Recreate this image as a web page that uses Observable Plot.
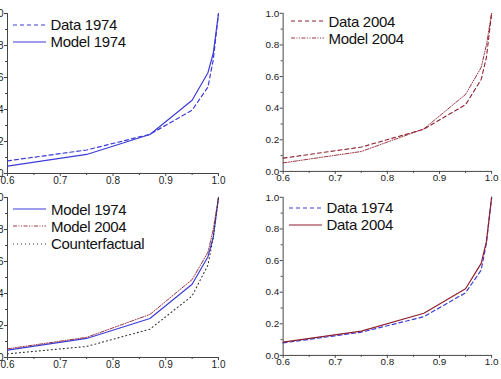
<!DOCTYPE html>
<html><head><meta charset="utf-8">
<script src="https://cdn.jsdelivr.net/npm/d3@7"></script>
<script src="https://cdn.jsdelivr.net/npm/@observablehq/plot@0.6"></script>
<style>
html,body{margin:0;padding:0;background:#fff;overflow:hidden;width:501px;height:379px;position:relative}
.panel{position:absolute}
.leg{position:absolute;font-family:"Liberation Sans",Arial,sans-serif;font-size:15px;color:#111;white-space:nowrap;letter-spacing:-0.3px}
.leg .row{display:flex;align-items:center;height:17.3px}
.leg svg{margin-right:5px;flex:none}
</style></head><body>
<script>
// Top income share curves (x = population fraction)
const xs = [0.6, 0.75, 0.87, 0.95, 0.98, 0.99, 1.0];
const data1974 = [0.079, 0.147, 0.245, 0.396, 0.54, 0.71, 1.0];
const model1974 = [0.046, 0.119, 0.244, 0.458, 0.63, 0.75, 1.0];
const data2004 = [0.084, 0.154, 0.267, 0.422, 0.582, 0.72, 1.0];
const model2004 = [0.054, 0.126, 0.269, 0.487, 0.658, 0.80, 1.0];
const counterfactual = [0.023, 0.069, 0.177, 0.385, 0.578, 0.75, 1.0];

const xTicks = [0.6, 0.7, 0.8, 0.9, 1.0];
const xMinor = [0.65, 0.75, 0.85, 0.95];
const yTicks = [0.0, 0.2, 0.4, 0.6, 0.8, 1.0];
const yMinor = [0.1, 0.3, 0.5, 0.7, 0.9];

const BLUE = "#3c3cd8", RED = "#8e1f2e", BLACK = "#333";
const sty = {
  dashBlue: {stroke: BLUE, strokeDasharray: "4,3", strokeWidth: 1.2},
  solidBlue: {stroke: BLUE, strokeWidth: 1.2},
  dashRed: {stroke: RED, strokeDasharray: "4,3", strokeWidth: 1.1},
  dashDotRed: {stroke: RED, strokeDasharray: "4,1.5,1,1.5,1,1.5", strokeWidth: 0.9},
  solidRed: {stroke: RED, strokeWidth: 1.2},
  dotted: {stroke: BLACK, strokeDasharray: "1,3", strokeWidth: 1.1}
};

const panels = [
  {left: -23, top: 0, legend: {x: 12.5, y: 16},
   series: [["Data 1974", data1974, sty.dashBlue], ["Model 1974", model1974, sty.solidBlue]]},
  {left: 253, top: 0, legend: {x: 290.5, y: 12.5},
   series: [["Data 2004", data2004, sty.dashRed], ["Model 2004", model2004, sty.dashDotRed]]},
  {left: -23, top: 184, legend: {x: 13, y: 200.5},
   series: [["Model 1974", model1974, sty.solidBlue], ["Model 2004", model2004, sty.dashDotRed], ["Counterfactual", counterfactual, sty.dotted]]},
  {left: 253, top: 184, legend: {x: 288.5, y: 199}, 
   series: [["Data 1974", data1974, sty.dashBlue], ["Data 2004", data2004, sty.solidRed]]}
];

const rows = arr => xs.map((x, i) => ({x, y: arr[i]}));
const AX = "#444";

for (const p of panels) {
  const chart = Plot.plot({
    width: 251, height: 193,
    marginLeft: 30, marginRight: 10, marginTop: 13, marginBottom: 20,
    x: {domain: [0.6, 1.0], label: null},
    y: {domain: [0, 1], label: null},
    style: {fontFamily: "'Liberation Sans', Arial, sans-serif", fontSize: "10px", color: "#222", background: "transparent", overflow: "visible"},
    marks: [
      Plot.axisY({ticks: yTicks, tickFormat: d3.format(".1f"), tickSize: 3, tickPadding: 1, stroke: AX}),
      Plot.axisY({ticks: yMinor, tickSize: 2, text: null, stroke: AX}),
      Plot.axisX({ticks: xTicks, tickFormat: d3.format(".1f"), tickSize: 3, tickPadding: 0, stroke: AX}),
      Plot.axisX({ticks: xMinor, tickSize: 2, text: null, stroke: AX}),
      Plot.ruleX([0.6], {stroke: AX}),
      Plot.ruleY([0], {stroke: AX}),
      ...p.series.map(([name, arr, s]) => Plot.line(rows(arr), {x: "x", y: "y", ...s}))
    ]
  });
  const wrap = document.createElement("div");
  wrap.className = "panel";
  wrap.style.left = p.left + "px";
  wrap.style.top = p.top + "px";
  wrap.appendChild(chart);
  document.body.appendChild(wrap);

  const leg = document.createElement("div");
  leg.className = "leg";
  leg.style.left = p.legend.x + "px";
  leg.style.top = p.legend.y + "px";
  for (const [name, , s] of p.series) {
    const row = document.createElement("div");
    row.className = "row";
    const svg = d3.create("svg").attr("width", 33).attr("height", 4);
    svg.append("line").attr("x1", 0).attr("x2", 33).attr("y1", 2).attr("y2", 2)
      .attr("stroke", s.stroke).attr("stroke-width", s.strokeWidth)
      .attr("stroke-dasharray", s.strokeDasharray || null);
    row.appendChild(svg.node());
    const t = document.createElement("span");
    t.textContent = name;
    row.appendChild(t);
    leg.appendChild(row);
  }
  document.body.appendChild(leg);
}
</script>
</body></html>
